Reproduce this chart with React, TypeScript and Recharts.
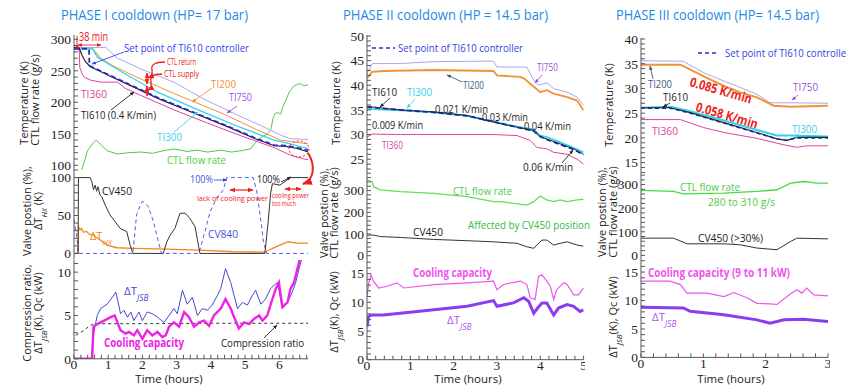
import React from "react";
import { LineChart, Line, XAxis, YAxis } from "recharts";

type Pt = { t: number; v: number };
const pts = (a: number[][]): Pt[] => a.map(([t, v]) => ({ t, v }));

// ---------- PHASE I ----------
const p1SetPoint = pts([[0,285],[0.44,285],[0.45,258],[1.0,244],[1.75,225],[2.5,206],[3.5,184],[4.5,162],[5.3,143],[5.85,132],[6.2,131],[6.6,127],[6.85,124]]);
const p1TI610 = pts([[0,287],[0.15,286],[0.24,274],[0.34,264],[0.49,256],[0.73,250],[1.0,243],[1.75,224],[2.5,205],[3.5,183],[4.5,161],[5.3,142],[5.85,131],[6.2,130],[6.5,127],[6.85,121]]);
const p1TI360 = pts([[0,290],[0.15,288],[0.17,255],[0.24,245],[0.3,240],[0.49,235],[0.78,232],[1.27,232],[1.5,222],[1.95,211],[2.92,188],[3.9,167],[4.87,147],[5.85,128],[6.33,116],[6.72,110],[6.85,109]]);
const p1TI300 = pts([[0,285],[0.54,285],[0.68,272],[0.97,262],[1.46,246],[2.44,216],[3.63,188],[4.87,160],[5.85,140],[6.24,135],[6.72,128],[6.85,127]]);
const p1TI200 = pts([[0,285],[0.55,285],[0.78,270],[1.17,257],[1.95,237],[2.92,214],[3.41,203],[4.39,181],[5.36,156],[6.04,140],[6.43,137],[6.85,134]]);
const p1TI750 = pts([[0,287],[0.93,287],[1.27,270],[1.95,253],[2.92,232],[3.8,205],[4.53,186],[5.46,163],[6.04,148],[6.33,142],[6.85,141]]);
const p1Flow = pts([[0.22,92],[0.3,105],[0.39,123],[0.54,134],[0.65,140],[0.7,137],[0.78,133],[0.97,123],[1.27,118],[1.6,120],[1.95,121],[2.3,119],[2.6,123],[2.92,126],[3.3,122],[3.6,124],[3.9,121],[4.3,124],[4.6,121],[4.87,123],[5.17,126],[5.31,137],[5.5,145],[5.65,150],[5.75,156],[5.82,175],[5.88,182],[5.95,184],[6.04,181],[6.12,195],[6.19,203],[6.29,216],[6.43,226],[6.55,229],[6.65,229],[6.72,226],[6.85,228]]);

const p1CV450 = pts([[0,0],[0.12,0],[0.13,100],[0.47,100],[0.52,95],[0.57,84],[0.62,90],[0.66,82],[0.7,88],[0.76,77],[0.81,75],[0.91,64],[1.05,51],[1.2,42],[1.35,33],[1.44,31],[1.54,29],[1.64,11],[1.72,0],[2.61,0],[2.71,15],[2.81,24],[2.95,33],[3.1,53],[3.25,53],[3.39,46],[3.54,35],[3.68,0],[5.58,0],[5.68,44],[5.75,80],[5.8,92],[6.02,90],[6.32,100],[6.85,100]]);
const p1CV840 = pts([[0,45],[0.08,22],[0.13,0],[1.72,0],[1.83,51],[1.98,68],[2.03,68],[2.17,62],[2.32,42],[2.47,15],[2.56,0],[3.65,0],[3.83,29],[3.98,55],[4.17,73],[4.37,84],[4.46,100],[5.24,100],[5.34,82],[5.44,51],[5.54,15],[5.63,0],[6.85,0]]);
const p1dTHX = pts([[0,0],[0.12,0],[0.13,35],[0.18,31],[0.22,33],[0.28,28],[0.37,29],[0.45,25],[0.57,24],[0.66,21],[0.76,18],[0.96,11],[1.25,7.5],[1.73,6.6],[2.71,5.7],[3.68,4.4],[4.66,2.2],[5.54,1.8],[5.7,4.5],[5.82,7],[6.02,11],[6.26,15.4],[6.51,13.6],[6.85,13.6]]);

const p1dTJSB = pts([[0,0],[0.5,0],[0.54,1.5],[0.58,3.1],[0.68,5],[0.78,5.8],[0.97,6.3],[1.12,7.1],[1.22,7.7],[1.27,6.9],[1.36,5.2],[1.46,5.6],[1.56,4.8],[1.66,5.4],[1.75,4.4],[1.9,5.4],[2.0,4.4],[2.14,5.4],[2.29,5.2],[2.44,4.8],[2.63,4.2],[2.78,5],[2.92,5.8],[3.02,5.2],[3.17,7.9],[3.31,6.3],[3.46,7.1],[3.61,5],[3.75,5.8],[3.9,5.6],[4.04,6.2],[4.19,7.3],[4.29,8.1],[4.43,10.4],[4.58,8.8],[4.78,5.8],[4.92,6.5],[5.07,6.2],[5.21,7.3],[5.31,7.9],[5.46,6.3],[5.6,6.9],[5.75,8.1],[5.85,8.5],[5.95,8.8],[6.09,5.8],[6.24,6.5],[6.38,7.7],[6.48,8.8],[6.58,10.4],[6.68,11.9]]);
const p1Qc = pts([[0,0],[0.53,0],[0.57,3.7],[0.68,4],[0.88,4.4],[1.07,4.8],[1.19,5],[1.27,4.2],[1.36,3.3],[1.51,2.9],[1.61,3.1],[1.75,2.7],[1.85,3.3],[2.0,2.3],[2.14,3.3],[2.29,2.7],[2.44,3.1],[2.58,2.5],[2.68,2.7],[2.78,3.7],[2.92,4.2],[3.07,3.7],[3.22,5.4],[3.36,4.8],[3.51,3.7],[3.66,4.2],[3.8,4.4],[3.95,3.8],[4.09,5],[4.29,5.8],[4.43,6.9],[4.58,5.8],[4.68,4.8],[4.82,3.5],[4.97,4.2],[5.12,4],[5.26,4.6],[5.41,5],[5.51,4.4],[5.65,5],[5.8,6.9],[5.9,8.1],[5.99,8.8],[6.09,6],[6.24,6.5],[6.33,8.1],[6.43,8.8],[6.53,10.4],[6.63,11.9]]);
const p1Comp = pts([[0.05,2.7],[0.3,3.3],[0.45,3.8],[0.6,4.05],[2,4.05],[4,4.1],[6.85,4.1]]);

// ---------- PHASE II ----------
const p2TI610 = pts([[0,35.7],[0.77,35],[1.54,34.6],[2.31,33.9],[2.92,32.5],[3.46,31.5],[3.85,30.8],[4,29.5],[4.15,29.1],[4.46,28.1],[4.77,27.1],[5,26]]);
const p2SetPoint = pts([[0,35.6],[0.77,35],[1.54,34.5],[2.31,33.8],[2.92,32.6],[3.46,31.5],[3.85,30.7],[4,29.6],[4.15,29],[4.46,28],[4.77,27],[5,25.9]]);
const p2TI300 = pts([[0,35.2],[0.77,34.9],[1.54,34.5],[2.31,33.8],[2.92,32.6],[3.46,31.6],[3.85,31],[4,29.8],[4.15,29.5],[4.46,28.4],[4.77,27.3],[5,26.4]]);
const p2TI200 = pts([[0,41.4],[0.12,42.7],[0.38,42.9],[1.54,43.1],[2.92,42.9],[3,42],[3.54,41.7],[3.62,41.4],[3.85,39.7],[4,38.6],[4.15,39],[4.31,38.3],[4.62,37.6],[4.85,36.9],[5,34.9]]);
const p2TI750 = pts([[0,42.4],[0.12,44.4],[0.77,44.4],[1.54,44.8],[2.92,44.9],[3,43.7],[3.69,43.7],[3.85,41],[3.96,40],[4.15,40.5],[4.31,39.3],[4.62,38.6],[4.85,37.6],[5,35.9]]);
const p2TI360 = pts([[0,29.5],[0.12,30.1],[0.77,30],[2.92,30],[3.46,29.8],[3.77,28.8],[3.92,27.4],[4.15,27.1],[4.31,26.4],[4.62,26],[4.85,25],[5,24]]);

const p2Flow = pts([[0,349],[0.12,341],[0.15,318],[0.31,303],[0.77,295],[1.54,287],[2.31,272],[2.92,249],[3.08,249],[3.69,233],[3.85,249],[4,275],[4.15,257],[4.31,249],[4.46,257],[4.62,249],[4.85,257],[5,260]]);
const p2CV450 = pts([[0,95],[0.15,95],[0.31,88],[0.77,84],[1.54,75],[2.31,69],[2.92,64],[3.46,57],[3.69,41],[3.85,34],[3.92,49],[4.04,72],[4.15,72],[4.31,49],[4.46,57],[4.62,64],[4.85,49],[5,44]]);

const p2Qc = pts([[0,11],[0.04,13.4],[0.09,14.8],[0.15,13.7],[0.27,12.5],[0.46,12.8],[0.69,13.4],[0.85,12.5],[1.54,13.1],[2.31,13.4],[2.92,13.7],[3,12.2],[3.15,13.1],[3.54,13.7],[3.69,13.1],[3.77,10.8],[3.88,10.5],[3.96,14.5],[4.04,14.8],[4.12,14],[4.23,12.8],[4.31,10.5],[4.38,12.2],[4.54,13.4],[4.62,13.1],[4.77,11.3],[4.88,11.3],[5,12.5]]);
const p2dTJSB = pts([[0,5.8],[0.04,7.6],[0.12,7.8],[0.38,7.8],[0.77,8.1],[1.54,8.7],[2.31,9.3],[2.92,10.3],[3,9.3],[3.38,9.9],[3.62,10.8],[3.73,10.2],[3.85,8.1],[3.94,9],[4.04,9.9],[4.15,9.9],[4.31,7.8],[4.42,9],[4.62,9.6],[4.77,9.3],[4.92,8.4],[5,8.7]]);

// ---------- PHASE III ----------
const p3TI750 = pts([[0,35.6],[0.68,35.5],[1,33.2],[1.33,31.5],[1.59,30.2],[1.86,28.8],[2.07,27.1],[2.4,27.1],[3,27]]);
const p3TI200 = pts([[0,34.8],[0.63,34.8],[1,32.5],[1.33,30.5],[1.59,29.2],[1.86,28.2],[2.13,26.5],[2.4,26.3],[3,26.5]]);
const p3TI610 = pts([[0,26.1],[0.47,26.1],[0.79,25.1],[1.33,23.1],[1.86,21.1],[2.18,19.8],[2.34,19.5],[2.5,20.1],[3,20.1]]);
const p3SetPoint = pts([[0,26],[0.47,26],[0.79,25],[1.33,23],[1.86,21],[2.18,19.8],[2.34,19.5],[2.5,20],[3,20]]);
const p3TI300 = pts([[0,26.1],[0.47,26.3],[0.79,25.4],[1.33,23.5],[1.86,21.6],[2.18,20.5],[2.4,20.5],[3,20.3]]);
const p3TI360 = pts([[0,23.7],[0.63,23.7],[1,22.1],[1.33,21.1],[1.86,19.9],[2.29,18.6],[2.5,18.1],[2.66,18.4],[3,18.4]]);

const p3Flow = pts([[0,275],[0.52,271],[0.68,261],[1.33,264],[1.86,271],[2.18,278],[2.4,306],[2.61,313],[2.82,306],[3,306]]);
const p3CV450 = pts([[0,73],[0.52,73],[0.74,49],[1.33,49],[1.59,45],[1.86,31],[2.18,24],[2.4,59],[2.5,73],[3,70]]);

const p3Qc = pts([[0,13.4],[0.47,13.4],[0.63,12.8],[0.74,11.3],[1.06,11.3],[1.33,10.7],[1.49,11.4],[1.7,10.5],[1.86,9.5],[2.07,9.4],[2.18,9.3],[2.4,11.2],[2.5,11.9],[2.58,11.3],[2.66,12.2],[2.77,11],[3,10.8]]);
const p3dTJSB = pts([[0,8.8],[0.68,8.7],[0.79,8.1],[1.33,7.5],[1.86,6.6],[2.07,6],[2.29,6.6],[2.61,6.7],[3,6.3]]);

// ---------- ticks ----------
const p1XTicks = [0, 1, 2, 3, 4, 5, 6];
const p2XTicks = [0, 1, 2, 3, 4, 5];
const p3XTicks = [0, 1, 2, 3];
const p1TopY = [100, 150, 200, 250, 300];
const p1MidY = [0, 50, 100];
const p1BotY = [0, 5, 10];
const p2TopY = [25, 30, 35, 40, 45, 50];
const p3TopY = [15, 20, 25, 30, 35, 40];
const flowY = [0, 100, 200, 300];
const qcY = [0, 5, 10, 15];

const C = {
  sp: "#2530c8",
  ti610: "#222",
  ti360: "#e2409e",
  ti300: "#35d2ee",
  ti200: "#f09236",
  ti750: "#a9a6ee",
  flow: "#4ccc45",
  cv450: "#333",
  cv840: "#5a5ae6",
  dthx: "#ee8a22",
  jsb1: "#4848cc",
  qc1: "#ee22e6",
  qc: "#ee55ee",
  jsb: "#8a3cf0",
  red: "#ee2020",
  title: "#1e8ae6",
  slate: "#3a5a80",
  purple: "#a050e8",
};

const SERIF = "'Liberation Serif', 'Times New Roman', serif";
const SANS = "'Open Sans', 'Noto Sans', sans-serif";
const TICK = { fontFamily: SERIF, fontSize: 13.5, fill: "#222" };
const FRAME = "#555";

type S = { data: Pt[]; color: string; width?: number; dash?: string };

function minor(d: [number, number], step: number) {
  const out: number[] = [];
  for (let k = Math.ceil(d[0] / step - 1e-9); k * step <= d[1] + 1e-9; k++) out.push(+(k * step).toFixed(4));
  return out;
}
const lab = (majors: number[]) => (v: number) => (majors.some((m) => Math.abs(m - v) < 1e-6) ? String(v) : "");

function Panel(props: {
  left: number; top: number; w: number; h: number;
  xDomain: [number, number]; xMajor: number[]; xStep: number;
  yDomain: [number, number]; yMajor: number[]; yStep: number;
  showX?: boolean; series: S[];
}) {
  const { left, top, w, h, xDomain, xMajor, xStep, yDomain, yMajor, yStep, showX, series } = props;
  const YW = 40;
  const PAD = 9;
  const XH = showX ? 20 : 0;
  const xt = minor(xDomain, xStep);
  const yt = minor(yDomain, yStep);
  return (
    <div style={{ position: "absolute", left: left - YW, top: top - PAD }}>
      <LineChart width={YW + w + 2} height={PAD + h + XH + PAD} margin={{ top: PAD, right: 2, bottom: PAD, left: 0 }}>
        <XAxis xAxisId="b" type="number" dataKey="t" domain={xDomain} ticks={xt} interval={0} allowDataOverflow
          tickFormatter={showX ? lab(xMajor) : () => ""} tickSize={-4} tickMargin={5} height={XH}
          tick={TICK} stroke={FRAME} tickLine={{ stroke: FRAME }} />
        <XAxis xAxisId="t" orientation="top" type="number" dataKey="t" domain={xDomain} ticks={xt} interval={0} allowDataOverflow
          tickFormatter={() => ""} tickSize={-4} height={0} stroke={FRAME} tickLine={{ stroke: FRAME }} />
        <YAxis yAxisId="l" type="number" domain={yDomain} ticks={yt} interval={0} allowDataOverflow
          tickFormatter={lab(yMajor)} tickSize={-4} tickMargin={7} width={YW}
          tick={TICK} stroke={FRAME} tickLine={{ stroke: FRAME }} />
        <YAxis yAxisId="r" orientation="right" type="number" domain={yDomain} ticks={yt} interval={0} allowDataOverflow
          tickFormatter={() => ""} tickSize={-4} width={0} stroke={FRAME} tickLine={{ stroke: FRAME }} />
        {series.map((s, i) => (
          <Line key={i} xAxisId="b" yAxisId="l" data={s.data} dataKey="v" type="linear" stroke={s.color}
            strokeWidth={s.width ?? 1} strokeDasharray={s.dash} dot={false} isAnimationActive={false} />
        ))}
      </LineChart>
    </div>
  );
}

function T(p: { x: number; y: number; c: string; s?: number; w?: number; b?: boolean; i?: boolean; a?: "start" | "middle" | "end"; rot?: number; f?: string; children: React.ReactNode }) {
  return (
    <text x={p.x} y={p.y} fill={p.c} fontSize={p.s ?? 11} fontFamily={p.f ?? SANS} fontWeight={p.b ? 700 : 400}
      fontStyle={p.i ? "italic" : "normal"} textAnchor={p.a ?? "start"}
      textLength={p.w} lengthAdjust={p.w ? "spacingAndGlyphs" : undefined}
      transform={p.rot ? `rotate(${p.rot} ${p.x} ${p.y})` : undefined}>
      {p.children}
    </text>
  );
}

const MK: Record<string, string> = { red: C.red, blue: "#3344ee", black: "#222", cyan: C.ti300, orange: C.ti200, purple: C.purple, slate: C.slate };

function A(p: { d: string; c: string; both?: boolean; w?: number }) {
  return <path d={p.d} fill="none" stroke={MK[p.c]} strokeWidth={p.w ?? 0.9} markerEnd={`url(#m-${p.c})`} markerStart={p.both ? `url(#m-${p.c})` : undefined} />;
}

function Sub({ children }: { children: React.ReactNode }) {
  return <tspan fontStyle="italic" fontSize="0.72em" baselineShift="sub">{children}</tspan>;
}

function YTitle({ x, y, s = 11, children }: { x: number; y: number; s?: number; children: React.ReactNode }) {
  return (
    <text x={x} y={y} fontFamily={SANS} fontSize={s} fill="#222" textAnchor="middle" transform={`rotate(-90 ${x} ${y})`}>
      {children}
    </text>
  );
}

function Overlay() {
  return (
    <svg width={846} height={387} style={{ position: "absolute", left: 0, top: 0, pointerEvents: "none", overflow: "hidden" }}>
      <defs>
        {Object.entries(MK).map(([k, col]) => (
          <marker key={k} id={`m-${k}`} viewBox="0 0 10 10" refX="9" refY="5" markerWidth="5" markerHeight="5" orient="auto-start-reverse">
            <path d="M0,1L10,5L0,9z" fill={col} />
          </marker>
        ))}
      </defs>

      {/* titles */}
      <T x={61} y={20} c={C.title} s={15} w={187}>PHASE I cooldown (HP= 17 bar)</T>
      <T x={343} y={20} c={C.title} s={15} w={205}>PHASE II cooldown (HP = 14.5 bar)</T>
      <T x={616} y={20} c={C.title} s={15} w={203}>PHASE III cooldown (HP= 14.5 bar)</T>

      {/* axis titles */}
      <YTitle x={28} y={103}>Temperature (K)</YTitle>
      <YTitle x={39} y={100}>CTL flow rate (g/s)</YTitle>
      <YTitle x={31} y={211}>Valve postion (%),</YTitle>
      <YTitle x={42} y={211}>ΔT<Sub>HX</Sub> (K)</YTitle>
      <YTitle x={31} y={313}>Compression ratio,</YTitle>
      <YTitle x={42} y={313}>ΔT<Sub>JSB</Sub>(K), Qc (kW)</YTitle>
      <YTitle x={340} y={103}>Temperature (K)</YTitle>
      <YTitle x={328} y={213}>Valve postion (%),</YTitle>
      <YTitle x={338} y={213}>CTL flow rate (g/s)</YTitle>
      <YTitle x={338} y={312}>ΔT<Sub>JSB</Sub>(K), Qc (kW)</YTitle>
      <YTitle x={613} y={105}>Temperature (K)</YTitle>
      <YTitle x={606} y={212}>Valve postion (%),</YTitle>
      <YTitle x={617} y={212}>CTL flow rate (g/s)</YTitle>
      <YTitle x={617} y={317}>ΔT<Sub>JSB</Sub>(K), Qc (kW)</YTitle>
      <T x={169} y={383} c="#222" s={11.5} a="middle">Time (hours)</T>
      <T x={468} y={383} c="#222" s={11.5} a="middle">Time (hours)</T>
      <T x={731} y={383} c="#222" s={11.5} a="middle">Time (hours)</T>

      {/* PHASE I top */}
      <T x={79} y={41} c={C.red} s={12} w={29}>38 min</T>
      <line x1={77} y1={36} x2={77} y2={50} stroke={C.red} strokeWidth={1} />
      <A d="M78,45 L101,45" c="red" both />
      <T x={124} y={52} c="#3344ee" s={11.5} w={125}>Set point of TI610 controller</T>
      <A d="M124,52 L92,64" c="blue" />
      <T x={167} y={65} c={C.red} s={8.5} w={29}>CTL return</T>
      <T x={164} y={77} c={C.red} s={8.5} w={35}>CTL supply</T>
      <A d="M165,62 Q150,62 152,70 Q153,76 148,78" c="red" w={1.3} />
      <A d="M162,74 Q149,74 151,82 Q152,88 148,90" c="red" w={1.3} />
      <A d="M147,73 L147,84" c="red" both w={1.2} />
      <A d="M147,86 L147,96" c="red" both w={1.2} />
      <T x={81} y={98} c={C.ti360} s={11.5} w={26}>TI360</T>
      <T x={81} y={119} c="#222" s={11.5} w={75}>TI610 (0.4 K/min)</T>
      <A d="M111,110 L134,92" c="black" />
      <T x={157} y={141} c={C.ti300} s={11.5} w={25}>TI300</T>
      <A d="M174,132 L198,112" c="cyan" />
      <T x={211} y={88} c={C.ti200} s={11.5} w={25}>TI200</T>
      <A d="M212,88 L192,102" c="orange" />
      <T x={229} y={101} c={C.purple} s={11.5} w={23}>TI750</T>
      <A d="M237,106 L227,113" c="purple" />
      <T x={167} y={164} c={C.flow} s={11.5} w={59}>CTL flow rate</T>
      <ellipse cx={299} cy={149} rx={10} ry={8} fill="none" stroke={C.red} strokeWidth={1} strokeDasharray="2 2" />
      <A d="M308,153 C316,166 314,180 303,184" c="red" w={2} />

      {/* PHASE I middle */}
      <T x={102} y={195} c="#222" s={11.5} w={30}>CV450</T>
      <text x={90} y={240} fill={C.dthx} fontFamily={SANS} fontSize={11}>ΔT<Sub>HX</Sub></text>
      <T x={208} y={238} c="#4455dd" s={11.5} w={30}>CV840</T>
      <T x={190} y={183} c="#4455dd" s={10.5} w={23}>100%</T>
      <A d="M214,180 L227,180" c="blue" />
      <T x={257} y={183} c="#222" s={10.5} w={23}>100%</T>
      <A d="M281,182 L291,177" c="black" />
      <T x={197} y={201} c={C.red} s={8} w={71}>lack of cooling power</T>
      <A d="M230,190 L253,190" c="red" both w={1.2} />
      <T x={272} y={198} c={C.red} s={8} w={37}>cooling power</T>
      <T x={272} y={206} c={C.red} s={8} w={24}>too much</T>
      <A d="M285,189 L301,189" c="red" both w={1.2} />

      {/* PHASE I bottom */}
      <text x={124} y={295} fill={C.jsb1} fontFamily={SANS} fontSize={11.5}>ΔT<Sub>JSB</Sub></text>
      <T x={104} y={347} c={C.qc1} s={12} b w={80}>Cooling capacity</T>
      <T x={221} y={347} c="#222" s={11.5} w={83}>Compression ratio</T>
      <A d="M264,338 L277,325" c="black" />

      {/* PHASE II top */}
      <line x1={372} y1={48} x2={395} y2={48} stroke={C.sp} strokeWidth={1.5} strokeDasharray="4 3" />
      <T x={398} y={52} c="#3344dd" s={11.5} w={125}>Set point of TI610 controller</T>
      <T x={463} y={89} c={C.slate} s={11.5} w={21}>TI200</T>
      <A d="M462,82 L447,75" c="slate" />
      <T x={537} y={71} c={C.purple} s={11.5} w={21}>TI750</T>
      <A d="M542,75 L535,83" c="purple" />
      <T x={372} y={96} c="#222" s={11.5} w={25}>TI610</T>
      <A d="M390,98 L380,107" c="black" />
      <T x={407} y={96} c={C.ti300} s={11.5} w={25}>TI300</T>
      <A d="M415,99 L407,108" c="cyan" />
      <T x={435} y={113} c="#222" s={11} w={53}>0.021 K/min</T>
      <T x={372} y={129} c="#222" s={11} w={51}>0.009 K/min</T>
      <T x={482} y={121} c="#222" s={11} w={46}>0.03 K/min</T>
      <T x={524} y={130} c="#222" s={11} w={47}>0.04 K/min</T>
      <T x={523} y={171} c="#222" s={11} w={50}>0.06 K/min</T>
      <A d="M562,163 L573,150" c="black" />
      <T x={382} y={149} c={C.ti360} s={11.5} w={21}>TI360</T>

      {/* PHASE II middle & bottom */}
      <T x={453} y={195} c={C.flow} s={11.5} w={59}>CTL flow rate</T>
      <T x={468} y={229} c="#33bb44" s={11.5} w={122}>Affected by CV450 position</T>
      <T x={413} y={236} c="#222" s={11.5} w={30}>CV450</T>
      <T x={413} y={277} c={C.qc} s={12} b w={79}>Cooling capacity</T>
      <text x={447} y={324} fill="#aa55ee" fontFamily={SANS} fontSize={11.5}>ΔT<Sub>JSB</Sub></text>

      {/* PHASE III top */}
      <line x1={698} y1={53} x2={718} y2={53} stroke={C.sp} strokeWidth={1.5} strokeDasharray="4 3" />
      <T x={725} y={57} c="#3344dd" s={11.5} w={125}>Set point of TI610 controller</T>
      <T x={648} y={88} c={C.slate} s={11.5} w={24}>TI200</T>
      <A d="M653,79 L650,66" c="slate" />
      <T x={663} y={101} c="#222" s={11.5} w={25}>TI610</T>
      <A d="M670,103 L663,107" c="black" />
      <T x={689} y={86} c={C.red} s={13} b w={64} rot={16}>0.085 K/min</T>
      <T x={695} y={111} c={C.red} s={13} b w={64} rot={16}>0.058 K/min</T>
      <T x={793} y={91} c={C.purple} s={11.5} w={25}>TI750</T>
      <A d="M798,95 L792,100" c="purple" />
      <T x={792} y={133} c={C.ti300} s={11.5} w={25}>TI300</T>
      <A d="M798,134 L796,138" c="cyan" />
      <T x={652} y={135} c={C.ti360} s={11.5} w={26}>TI360</T>

      {/* PHASE III middle & bottom */}
      <T x={680} y={191} c={C.flow} s={11.5} w={60}>CTL flow rate</T>
      <T x={708} y={206} c={C.flow} s={11.5} w={67}>280 to 310 g/s</T>
      <T x={698} y={242} c="#222" s={11.5} w={65}>CV450 (&gt;30%)</T>
      <T x={648} y={277} c={C.qc} s={12} b w={142}>Cooling capacity (9 to 11 kW)</T>
      <text x={652} y={321} fill="#aa55ee" fontFamily={SANS} fontSize={11.5}>ΔT<Sub>JSB</Sub></text>
    </svg>
  );
}

export default function App() {
  const p1x: [number, number] = [0, 6.84];
  const p2x: [number, number] = [0, 5];
  const p3x: [number, number] = [0, 3];
  return (
    <div style={{ position: "absolute", left: 0, top: 0, width: 846, height: 387, background: "#fff", overflow: "hidden" }}>
      <Panel left={74} top={35} w={234} h={135} xDomain={p1x} xMajor={p1XTicks} xStep={0.2}
        yDomain={[92.5, 306.8]} yMajor={p1TopY} yStep={10}
        series={[
          { data: p1Flow, color: C.flow },
          { data: p1TI750, color: C.ti750 },
          { data: p1TI200, color: C.ti200 },
          { data: p1TI300, color: C.ti300, width: 1.3 },
          { data: p1TI360, color: C.ti360 },
          { data: p1TI610, color: C.ti610, width: 1.2 },
          { data: p1SetPoint, color: C.sp, width: 1.8, dash: "5 3" },
        ]} />
      <Panel left={74} top={170} w={234} h={89.5} xDomain={p1x} xMajor={p1XTicks} xStep={0.2}
        yDomain={[-8, 110]} yMajor={p1MidY} yStep={10}
        series={[
          { data: p1dTHX, color: C.dthx, width: 1.3 },
          { data: p1CV840, color: C.cv840, dash: "4 3" },
          { data: p1CV450, color: C.cv450 },
        ]} />
      <Panel left={74} top={259.5} w={234} h={98.8} xDomain={p1x} xMajor={p1XTicks} xStep={0.2}
        yDomain={[0, 11.4]} yMajor={p1BotY} yStep={1} showX
        series={[
          { data: p1Comp, color: "#333", dash: "3 3" },
          { data: p1dTJSB, color: C.jsb1 },
          { data: p1Qc, color: C.qc1, width: 2.4 },
        ]} />

      <Panel left={366.7} top={35} w={216.6} h={138} xDomain={p2x} xMajor={p2XTicks} xStep={0.2}
        yDomain={[22.2, 50.2]} yMajor={p2TopY} yStep={1}
        series={[
          { data: p2TI750, color: C.ti750 },
          { data: p2TI200, color: C.ti200, width: 1.8 },
          { data: p2TI360, color: C.ti360 },
          { data: p2TI300, color: C.ti300, width: 1.8 },
          { data: p2TI610, color: C.ti610 },
          { data: p2SetPoint, color: "#1c2890", width: 1.8, dash: "5 3" },
        ]} />
      <Panel left={366.7} top={173} w={216.6} h={84.3} xDomain={p2x} xMajor={p2XTicks} xStep={0.2}
        yDomain={[-7.4, 381]} yMajor={flowY} yStep={20}
        series={[
          { data: p2Flow, color: "#66dd55", width: 1.3 },
          { data: p2CV450, color: C.cv450 },
        ]} />
      <Panel left={366.7} top={257.3} w={216.6} h={102.7} xDomain={p2x} xMajor={p2XTicks} xStep={0.2}
        yDomain={[0, 17.9]} yMajor={qcY} yStep={1} showX
        series={[
          { data: p2Qc, color: C.qc, width: 1.2 },
          { data: p2dTJSB, color: C.jsb, width: 3 },
        ]} />

      <Panel left={640.7} top={38.3} w={187} h={135} xDomain={p3x} xMajor={p3XTicks} xStep={0.2}
        yDomain={[12.9, 40.2]} yMajor={p3TopY} yStep={1}
        series={[
          { data: p3TI750, color: C.ti750 },
          { data: p3TI200, color: C.ti200, width: 2 },
          { data: p3TI360, color: C.ti360 },
          { data: p3TI300, color: C.ti300, width: 2 },
          { data: p3TI610, color: C.ti610, width: 1.2 },
          { data: p3SetPoint, color: "#1c2890", width: 1.5, dash: "4 3" },
        ]} />
      <Panel left={640.7} top={173.3} w={187} h={84} xDomain={p3x} xMajor={p3XTicks} xStep={0.2}
        yDomain={[-6.8, 349]} yMajor={flowY} yStep={20}
        series={[
          { data: p3Flow, color: "#44dd44", width: 1.3 },
          { data: p3CV450, color: C.cv450 },
        ]} />
      <Panel left={640.7} top={257.3} w={187} h={100.4} xDomain={p3x} xMajor={p3XTicks} xStep={0.2}
        yDomain={[0, 17.65]} yMajor={qcY} yStep={1} showX
        series={[
          { data: p3Qc, color: C.qc, width: 1.2 },
          { data: p3dTJSB, color: C.jsb, width: 3 },
        ]} />

      <Overlay />
    </div>
  );
}
